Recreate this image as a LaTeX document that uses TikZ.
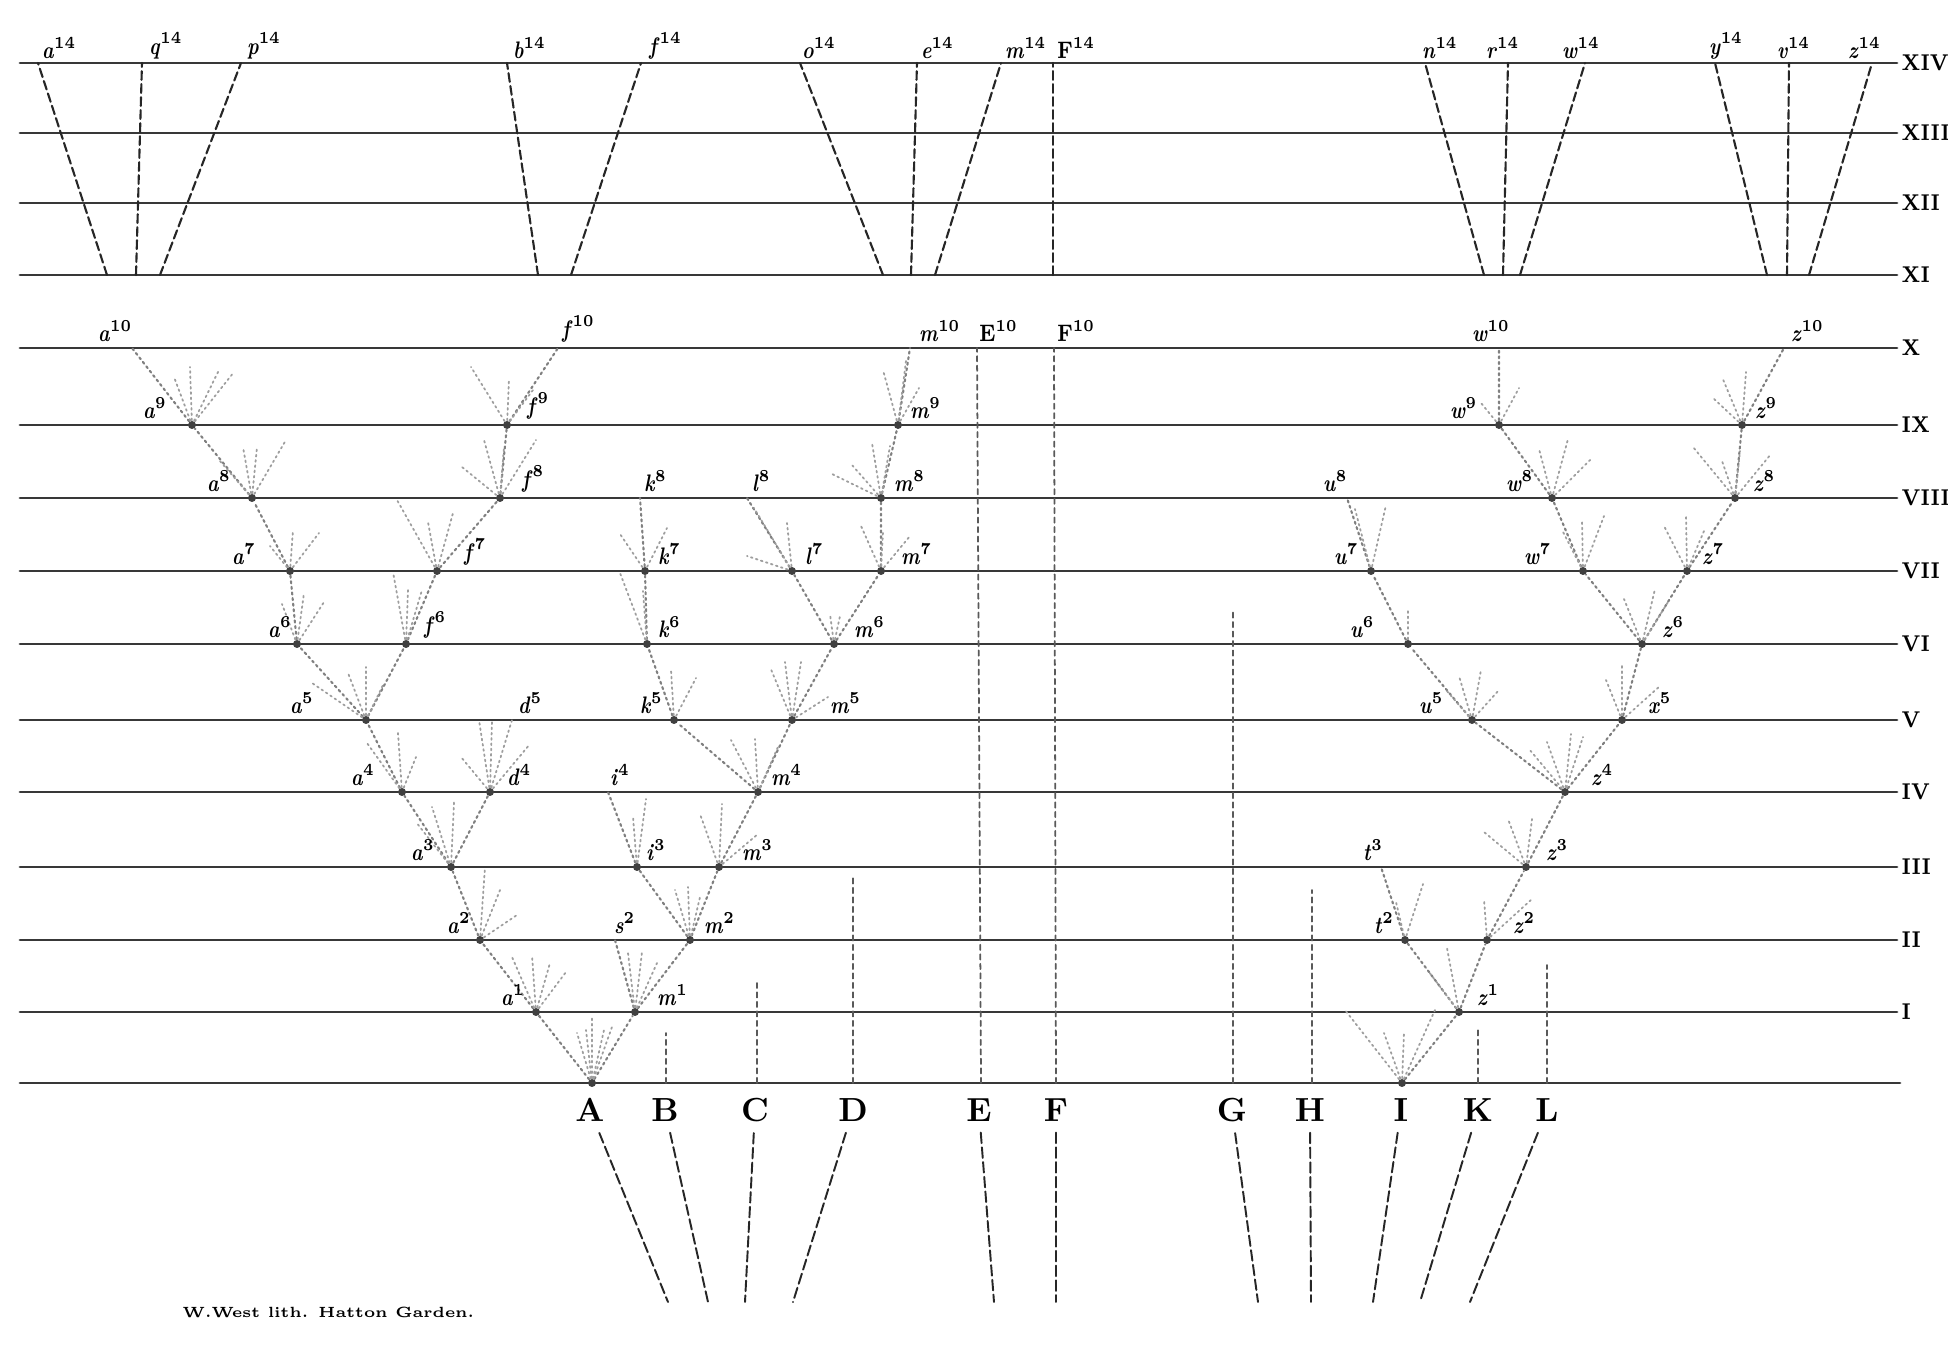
\documentclass[tikz,border=0pt]{standalone}
\usepackage{tikz}
\usetikzlibrary{calc}
\tikzset{
  lvl/.style={draw=black!78, line width=0.8pt},
  brch/.style={draw=black!50, densely dotted, line width=0.6pt},
  ray/.style={draw=black!38, densely dotted, line width=0.5pt},
  vdot/.style={draw=black!65, dash pattern=on 1.5pt off 1.2pt, line width=0.5pt},
  topdash/.style={draw=black!85, dash pattern=on 2.5pt off 1.2pt, line width=0.6pt},
  botdash/.style={draw=black!85, dash pattern=on 3pt off 1.2pt, line width=0.55pt},
  dotv/.style={circle, fill=black!75, inner sep=0.8pt},
  lbl/.style={font=\fontsize{6.8}{8}\selectfont\bfseries, inner sep=0.4pt, anchor=south west},
  numl/.style={font=\fontsize{6.5}{7}\selectfont\bfseries, inner sep=0pt, anchor=west},
  taxon/.style={font=\fontsize{9.5}{10}\selectfont\bfseries, inner sep=3pt},
  every picture/.style={line cap=round, line join=round}
}
\newcommand{\tx}[2]{\scalebox{0.82}[1]{\textit{#1}\textsuperscript{#2}}}
\newcommand{\ux}[2]{\scalebox{0.82}[1]{#1\textsuperscript{#2}}}
\newcommand{\fan}[2]{\foreach \dx/\dy in {#2} {\draw[ray] (#1) -- ++(\dx,\dy);}}

\begin{document}
\begin{tikzpicture}[x=0.01cm, y=-0.01cm]
    \fill[white] (0,0) rectangle (1948,1352);
    \useasboundingbox (0,0) rectangle (1948,1352);

    % generations
    \foreach \y/\r in {63/XIV,133/XIII,203/XII,275/XI,348/X,425/IX,498/VIII,571/VII,644/VI,720/V,792/IV,867/III,940/II,1012/I} {
      \draw[lvl] (20,\y) -- (1897,\y);
      \node[numl] (n\r) at (1901,\y) {\scalebox{0.85}[1]{\r}};
    }
    \draw[lvl] (20,1083) -- (1900,1083);

    % upper part, XI to XIV
    \foreach \n/\xb/\xt in {a/107/38,q/136/142,p/160/241,b/538/507,f/571/641,o/883/800,e/911/917,m/935/1001,n/1484/1425,r/1503/1508,w/1520/1585,y/1767/1715,v/1787/1789,z/1809/1872} {
      \coordinate (\n11) at (\xb,275);
      \coordinate (\n14) at (\xt,63);
      \draw[topdash] (\n11) -- (\n14);
    }
    \coordinate (F11) at (1053,275);
    \coordinate (F14) at (1053,63);
    \draw[topdash] (F11) -- (F14);
    \foreach \n/\x in {a/40,q/147,p/245,b/511,f/647,o/800,e/919,m/1003,n/1420,r/1484,w/1560,y/1707,v/1775,z/1846}
      \node[lbl] (l\n14) at (\x,61) {\tx{\n}{14}};
    \node[lbl] (lF14) at (1055,61) {\ux{F}{14}};

    % tree from A
    \node[dotv] (rA) at (592,1083) {};
    \node[dotv] (a1) at (536,1012) {};
    \node[dotv] (m1) at (635,1012) {};
    \node[dotv] (a2) at (480,940) {};
    \coordinate (s2) at (615,940);
    \node[dotv] (m2) at (690,940) {};
    \node[dotv] (a3) at (451,867) {};
    \node[dotv] (i3) at (637,867) {};
    \node[dotv] (m3) at (719,867) {};
    \node[dotv] (a4) at (402,792) {};
    \node[dotv] (d4) at (490,792) {};
    \coordinate (i4) at (608,792);
    \node[dotv] (m4) at (758,792) {};
    \node[dotv] (a5) at (366,720) {};
    \node[dotv] (k5) at (674,720) {};
    \node[dotv] (m5) at (792,720) {};
    \node[dotv] (a6) at (297,644) {};
    \node[dotv] (f6) at (406,644) {};
    \node[dotv] (k6) at (647,644) {};
    \node[dotv] (m6) at (834,644) {};
    \node[dotv] (a7) at (290,571) {};
    \node[dotv] (f7) at (437,571) {};
    \node[dotv] (k7) at (645,571) {};
    \node[dotv] (l7) at (792,571) {};
    \node[dotv] (m7) at (881,571) {};
    \node[dotv] (a8) at (252,498) {};
    \node[dotv] (f8) at (500,498) {};
    \coordinate (k8) at (640,498);
    \coordinate (l8) at (747,498);
    \node[dotv] (m8) at (881,498) {};
    \node[dotv] (a9) at (192,425) {};
    \node[dotv] (f9) at (507,425) {};
    \node[dotv] (m9) at (898,425) {};
    \coordinate (a10) at (132,348);
    \coordinate (f10) at (558,348);
    \coordinate (m10) at (910,348);
    \coordinate (E10) at (977,348);
    \coordinate (F10) at (1054,348);

    \draw[brch] (rA)--(a1) (rA)--(m1) (a1)--(a2) (m1)--(s2) (m1)--(m2);
    \draw[brch] (a2)--(a3) (m2)--(i3) (m2)--(m3) (i3)--(i4) (m3)--(m4);
    \draw[brch] (a3)--(a4) (a3)--(d4) (a4)--(a5) (m4)--(k5) (m4)--(m5);
    \draw[brch] (a5)--(a6) (a5)--(f6) (a6)--(a7) (f6)--(f7) (a7)--(a8) (f7)--(f8);
    \draw[brch] (a8)--(a9) (f8)--(f9) (a9)--(a10) (f9)--(f10);
    \draw[brch] (k5)--(k6) (k6)--(k7) (k7)--(k8) (m5)--(m6) (m6)--(l7) (m6)--(m7);
    \draw[brch] (l7)--(l8) (m7)--(m8) (m8)--(m9) (m9)--(m10);

    \fan{rA}{-15/-50,-6/-53,0/-65,12/-53,20/-56}
    \fan{a1}{-24/-55,-4/-57,14/-49,30/-40}
    \fan{m1}{-7/-59,7/-60,22/-49}
    \fan{a2}{5/-73,20/-50,37/-25}
    \fan{m2}{-15/-50,-2/-53,10/-43}
    \fan{a3}{-35/-45,-19/-60,3/-65}
    \fan{i3}{-4/-50,9/-68}
    \fan{m3}{-19/-53,3/-63,39/-33}
    \fan{a4}{-35/-49,-4/-59,14/-35}
    \fan{d4}{-29/-35,-11/-72,2/-72,22/-72,40/-48}
    \fan{m4}{-27/-52,-3/-53,20/-45}
    \fan{a5}{-54/-37,-18/-47,0/-53,18/-37}
    \fan{k5}{-3/-50,22/-42}
    \fan{m5}{-22/-53,-7/-58,9/-58,36/-23}
    \fan{a6}{-15/-40,7/-51,27/-42}
    \fan{f6}{-13/-72,2/-54,16/-54}
    \fan{k6}{-27/-71,-4/-53}
    \fan{m6}{-4/-30,6/-28}
    \fan{a7}{-20/-25,3/-41,29/-38}
    \fan{f7}{-40/-71,-9/-49,16/-58}
    \fan{k7}{-25/-37,22/-43}
    \fan{l7}{-45/-15,-5/-48,-38/-63}
    \fan{m7}{-20/-45,2/-40,29/-35}
    \fan{a8}{-33/-38,-9/-51,5/-51,34/-58}
    \fan{f8}{-38/-31,-16/-58,4/-51,36/-58}
    \fan{m8}{-51/-25,-29/-33,-9/-55,9/-52}
    \fan{a9}{-18/-48,-2/-58,27/-55,42/-53}
    \fan{f9}{-36/-58,2/-46,26/-35}
    \fan{m9}{-15/-55,8/-64,21/-37}

    % tree from I
    \node[dotv] (rI) at (1402,1083) {};
    \node[dotv] (z1) at (1459,1012) {};
    \node[dotv] (t2) at (1405,940) {};
    \node[dotv] (z2) at (1487,940) {};
    \coordinate (t3) at (1381,867);
    \node[dotv] (z3) at (1526,867) {};
    \node[dotv] (z4) at (1565,792) {};
    \node[dotv] (u5) at (1472,720) {};
    \node[dotv] (x5) at (1622,720) {};
    \node[dotv] (u6) at (1408,644) {};
    \node[dotv] (z6) at (1642,644) {};
    \node[dotv] (u7) at (1371,571) {};
    \node[dotv] (w7) at (1583,571) {};
    \node[dotv] (z7) at (1687,571) {};
    \coordinate (u8) at (1347,498);
    \node[dotv] (w8) at (1552,498) {};
    \node[dotv] (z8) at (1735,498) {};
    \node[dotv] (w9) at (1499,425) {};
    \node[dotv] (z9) at (1742,425) {};
    \coordinate (w10) at (1499,348);
    \coordinate (z10) at (1784,348);

    \draw[brch] (rI)--(z1) (z1)--(t2) (z1)--(z2) (t2)--(t3) (z2)--(z3) (z3)--(z4);
    \draw[brch] (z4)--(u5) (z4)--(x5) (u5)--(u6) (x5)--(z6) (u6)--(u7) (u7)--(u8);
    \draw[brch] (z6)--(w7) (z6)--(z7) (w7)--(w8) (w8)--(w9) (w9)--(w10);
    \draw[brch] (z7)--(z8) (z8)--(z9) (z9)--(z10);

    \fan{rI}{-57/-73,-18/-50,2/-51,33/-73}
    \fan{z1}{-12/-64,-30/-40}
    \fan{t2}{-9/-38,18/-56}
    \fan{z2}{-3/-41,45/-41}
    \fan{z3}{-42/-35,-18/-48,6/-48}
    \fan{z4}{-36/-43,-18/-50,6/-58,18/-55}
    \fan{u5}{-26/-30,-13/-44,9/-50,27/-30}
    \fan{x5}{-16/-40,0/-54,38/-34}
    \fan{u6}{0/-35}
    \fan{z6}{-18/-45,13/-55,26/-42}
    \fan{u7}{-16/-62,15/-66}
    \fan{w7}{-21/-41,-1/-51,21/-55}
    \fan{z7}{-23/-45,-1/-57,17/-40}
    \fan{w8}{-13/-49,16/-59,39/-39}
    \fan{z8}{-42/-51,-13/-37,5/-47,36/-44}
    \fan{w9}{-18/-22,20/-37}
    \fan{z9}{-20/-48,4/-53,-29/-27}

    % unchanged species
    \foreach \t/\x/\y in {B/666/1033,C/757/983,D/853/877,G/1233/610,H/1312/890,K/1478/1027,L/1547/965} {
      \coordinate (\t b) at (\x,1083);
      \coordinate (\t t) at (\x,\y);
      \draw[vdot] (\t b) -- (\t t);
    }
    \coordinate (Eb) at (981,1083);
    \coordinate (Fb) at (1056,1083);
    \draw[vdot] (Eb) -- (E10);
    \draw[vdot] (Fb) -- (F10);

    % labels
    \node[lbl] (la10) at (96,344) {\tx{a}{10}};
    \node[lbl] (lf10) at (560,344) {\tx{f}{10}};
    \node[lbl] (lm10) at (917,344) {\tx{m}{10}};
    \node[lbl] (lE10) at (977,344) {\ux{E}{10}};
    \node[lbl] (lF10) at (1055,344) {\ux{F}{10}};
    \node[lbl] (lw10) at (1470,344) {\tx{w}{10}};
    \node[lbl] (lz10) at (1789,344) {\tx{z}{10}};
    \foreach \n/\x in {a/141,f/525,m/908,w/1448,z/1753}
      \node[lbl] (l\n9) at (\x,421) {\tx{\n}{9}};
    \foreach \n/\x in {a/205,f/520,k/642,l/750,m/892,u/1321,w/1504,z/1751}
      \node[lbl] (l\n8) at (\x,494) {\tx{\n}{8}};
    \foreach \n/\x in {a/230,f/462,k/656,l/803,m/899,u/1332,w/1522,z/1700}
      \node[lbl] (l\n7) at (\x,567) {\tx{\n}{7}};
    \foreach \n/\x in {a/266,f/422,k/656,m/852,u/1348,z/1660}
      \node[lbl] (l\n6) at (\x,640) {\tx{\n}{6}};
    \foreach \n/\x in {a/288,d/516,k/638,m/828,u/1417,x/1646}
      \node[lbl] (l\n5) at (\x,716) {\tx{\n}{5}};
    \foreach \n/\x in {a/349,d/505,i/608,m/769,z/1589}
      \node[lbl] (l\n4) at (\x,788) {\tx{\n}{4}};
    \foreach \n/\x in {a/409,i/644,m/740,t/1361,z/1544}
      \node[lbl] (l\n3) at (\x,863) {\tx{\n}{3}};
    \foreach \n/\x in {a/445,s/612,m/702,t/1372,z/1511}
      \node[lbl] (l\n2) at (\x,936) {\tx{\n}{2}};
    \foreach \n/\x in {a/499,m/655,z/1475}
      \node[lbl] (l\n1) at (\x,1008) {\tx{\n}{1}};

    % the original species
    \foreach \t/\x/\xe in {A/590/668,B/665/708,C/755/745,D/853/793,E/979/994,F/1056/1056,G/1232/1258,H/1310/1311,I/1401/1373,K/1478/1420,L/1547/1470} {
      \node[taxon] (\t) at (\x,1110) {\t};
      \coordinate (e\t) at (\xe,1302);
      \draw[botdash] (\t) -- (e\t);
    }

    \node[font=\fontsize{4.2}{5}\selectfont\bfseries, anchor=west, inner sep=0pt] (cap) at (182,1312) {W.West lith. Hatton Garden.};
\end{tikzpicture}
\end{document}
